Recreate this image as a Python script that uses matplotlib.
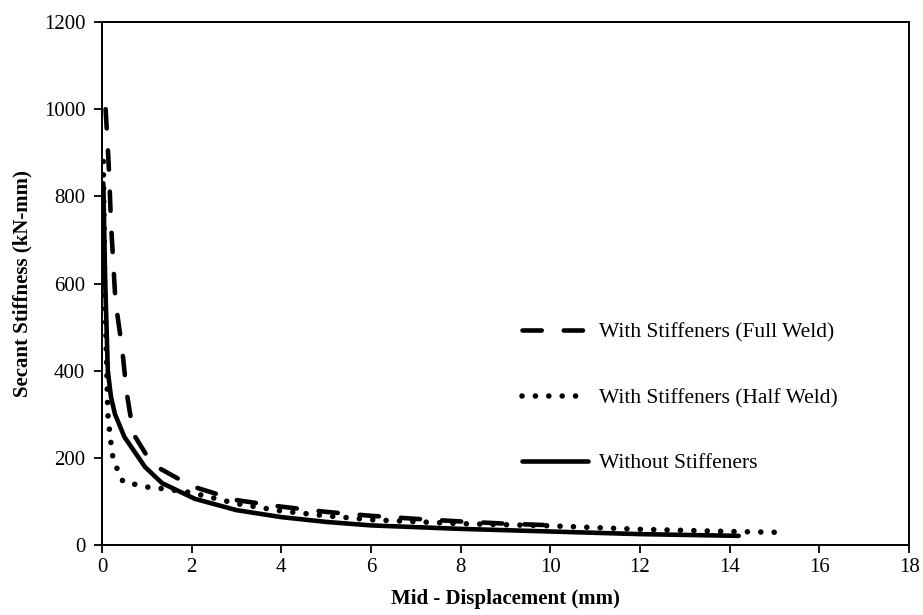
import matplotlib
matplotlib.use("Agg")
import matplotlib.pyplot as plt

plt.rcParams["font.family"] = ["Liberation Serif", "DejaVu Serif"]

# Secant stiffness vs mid-span displacement
full_x = [0.08, 0.12, 0.16, 0.2, 0.25, 0.3, 0.45, 0.55, 0.7, 1.0, 1.3, 2.0, 3.0, 4.0, 5.0, 6.0, 7.0, 8.0, 9.0, 10.1]
full_y = [1000, 930, 850, 740, 650, 560, 450, 350, 255, 205, 175, 135, 103, 88, 76, 67, 60, 54, 49, 45]

half_x = [0.03, 0.06, 0.09, 0.13, 0.18, 0.25, 0.36, 0.47, 0.7, 1.0, 1.3, 2.0, 3.0, 4.0, 5.0, 6.0, 8.0, 10.0, 12.0, 14.0, 15.1]
half_y = [880, 600, 470, 300, 250, 195, 170, 145, 140, 133, 130, 120, 95, 78, 67, 58, 49, 44, 36, 31, 29]

without_x = [0.03, 0.07, 0.13, 0.2, 0.29, 0.5, 0.96, 1.34, 2.07, 3.0, 4.0, 5.0, 6.0, 8.0, 10.0, 12.0, 14.2]
without_y = [830, 610, 400, 340, 300, 248, 179, 142, 106, 80, 64, 53, 45, 37, 31, 25, 21]

fig = plt.figure(figsize=(9.23, 6.15), dpi=100)
ax = fig.add_axes([0.1105, 0.1138, 0.8744, 0.8504])

ax.plot(full_x, full_y, color="black", linewidth=3.3, linestyle=(0, (4.2, 4.8)),
        dash_capstyle="round", label="With Stiffeners (Full Weld)")
ax.plot(half_x, half_y, color="black", linewidth=4, linestyle=(0, (0.01, 2.4)),
        dash_capstyle="round", label="With Stiffeners (Half Weld)")
ax.plot(without_x, without_y, color="black", linewidth=3.3, solid_capstyle="round",
        label="Without Stiffeners")

ax.set_xlim(0, 18)
ax.set_ylim(0, 1200)
ax.set_xticks(range(0, 19, 2))
ax.set_yticks(range(0, 1201, 200))
ax.tick_params(direction="out", length=6, width=1.3, labelsize=15, colors="black")
ax.tick_params(axis="x", pad=3)
ax.tick_params(axis="y", pad=6)
for s in ax.spines.values():
    s.set_linewidth(1.4)
    s.set_color("black")

ax.set_xlabel("Mid - Displacement (mm)", fontsize=15, fontweight="bold", labelpad=9)
ax.set_ylabel("Secant Stiffness (kN-mm)", fontsize=15, fontweight="bold", labelpad=8)

ax.legend(loc="upper left", bbox_to_anchor=(0.52, 0.425), frameon=False,
          fontsize=15.5, handlelength=3.1, handletextpad=0.5, labelspacing=2.1,
          borderaxespad=0, borderpad=0)

fig.savefig("out.png", dpi=100)
